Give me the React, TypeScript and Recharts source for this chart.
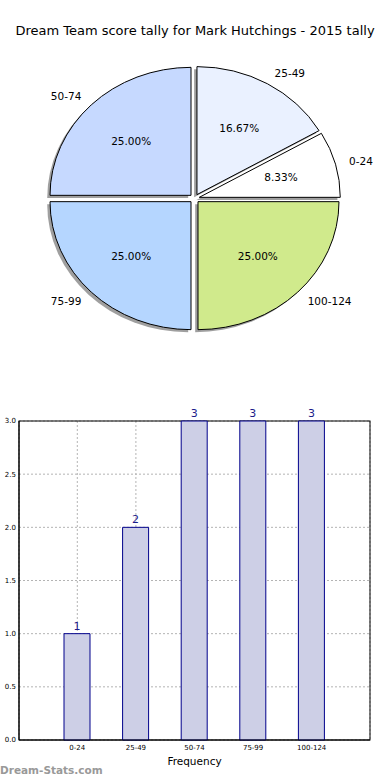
import React from "react";
import * as R from "recharts";
import { PieChart, Pie, BarChart, Bar, XAxis, YAxis, CartesianGrid, LabelList } from "recharts";

const bins = ["0-24", "25-49", "50-74", "75-99", "100-124"];
const counts = [1, 2, 3, 3, 3];
const sliceColors = ["#ffffff", "#eaf1ff", "#c6d9ff", "#b5d6ff", "#d0ea8c"];
const yTicks = [0, 0.5, 1, 1.5, 2, 2.5, 3];

const data = bins.map((b, i) => ({ name: b, value: counts[i], color: sliceColors[i] }));

const FONT = "'DejaVu Sans', sans-serif";
const RAD = Math.PI / 180;
const Y_RATIO = 128 / 141;
const EXPLODE = 0.035;
const BAR_W = 390;
const BAR_H = 380;

function geom(p: any) {
  const rx = p.outerRadius;
  const ry = p.outerRadius * Y_RATIO;
  const mid = p.midAngle;
  const ox = p.cx + EXPLODE * rx * Math.cos(mid * RAD);
  const oy = p.cy - EXPLODE * ry * Math.sin(mid * RAD);
  return { rx, ry, ox, oy, mid };
}

function sectorPath(p: any, dx: number, dy: number) {
  const { rx, ry, ox, oy } = geom(p);
  const cx = ox + dx;
  const cy = oy + dy;
  const s = p.startAngle;
  const e = p.endAngle;
  const x1 = cx + rx * Math.cos(s * RAD);
  const y1 = cy - ry * Math.sin(s * RAD);
  const x2 = cx + rx * Math.cos(e * RAD);
  const y2 = cy - ry * Math.sin(e * RAD);
  const large = Math.abs(e - s) > 180 ? 1 : 0;
  return `M${cx},${cy} L${x1},${y1} A${rx},${ry} 0 ${large} 0 ${x2},${y2} Z`;
}

function renderShadow(p: any) {
  const rx = p.outerRadius;
  return (
    <path
      key={`sh-${p.index}`}
      d={sectorPath(p, -0.02 * rx, 0.02 * rx * Y_RATIO)}
      fill="#404040"
      fillOpacity={0.5}
      stroke="none"
    />
  );
}

function renderSlice(p: any) {
  return (
    <path
      key={`sl-${p.index}`}
      d={sectorPath(p, 0, 0)}
      fill={p.payload.color}
      stroke="#000"
      strokeWidth={1}
    />
  );
}

function renderText(p: any) {
  const { rx, ry, ox, oy, mid } = geom(p);
  const c = Math.cos(mid * RAD);
  const s = Math.sin(mid * RAD);
  const lx = ox + 1.1 * rx * c;
  const ly = oy - 1.1 * ry * s;
  const px = ox + 0.6 * rx * c;
  const py = oy - 0.6 * ry * s;
  return (
    <g key={`tx-${p.index}`}>
      <text x={lx} y={ly} textAnchor={c > 0 ? "start" : "end"} dominantBaseline="central" fontFamily={FONT} fontSize={10.5} fill="#000">
        {p.name}
      </text>
      <text x={px} y={py} textAnchor="middle" dominantBaseline="central" fontFamily={FONT} fontSize={10.5} fill="#000">
        {(p.percent * 100).toFixed(2) + "%"}
      </text>
    </g>
  );
}

const barData = bins.map((b, i) => ({ bin: b, count: counts[i] }));

const usePlotAreaAny: any = (R as any).usePlotArea;
const useOffsetAny: any = (R as any).useOffset;

function PlotBorder() {
  let area: any = null;
  if (usePlotAreaAny) {
    area = usePlotAreaAny();
  } else if (useOffsetAny) {
    const o = useOffsetAny();
    if (o) area = { x: o.left, y: o.top, width: BAR_W - o.left - o.right, height: BAR_H - o.top - o.bottom };
  }
  if (!area) return null;
  return <rect x={area.x} y={area.y} width={area.width} height={area.height} fill="none" stroke="#000" strokeWidth={1} />;
}

export default function App() {
  return (
    <div style={{ position: "absolute", left: 0, top: 0, width: 390, height: 780, background: "#fff" }}>
      <div
        style={{
          position: "absolute",
          left: 0,
          top: 23,
          width: 390,
          textAlign: "center",
          fontFamily: FONT,
          fontSize: 13,
          lineHeight: "15px",
          color: "#000",
          whiteSpace: "nowrap",
        }}
      >
        Dream Team score tally for Mark Hutchings - 2015 tally
      </div>
      <div style={{ position: "absolute", left: 0, top: 0 }}>
        <PieChart width={390} height={380} margin={{ top: 0, right: 0, bottom: 0, left: 0 }}>
          <Pie data={data} dataKey="value" nameKey="name" cx={194.5} cy={198.5} outerRadius={141} startAngle={0} endAngle={360}
            fill="transparent" stroke="none" label={renderShadow} labelLine={false} isAnimationActive={false} />
          <Pie data={data} dataKey="value" nameKey="name" cx={194.5} cy={198.5} outerRadius={141} startAngle={0} endAngle={360}
            fill="transparent" stroke="none" label={renderSlice} labelLine={false} isAnimationActive={false} />
          <Pie data={data} dataKey="value" nameKey="name" cx={194.5} cy={198.5} outerRadius={141} startAngle={0} endAngle={360}
            fill="transparent" stroke="none" label={renderText} labelLine={false} isAnimationActive={false} />
        </PieChart>
      </div>
      <div style={{ position: "absolute", left: 0, top: 400 }}>
        <BarChart width={BAR_W} height={BAR_H} data={barData} margin={{ top: 21, right: 20, bottom: 0, left: 0 }} barCategoryGap={0}>
          <XAxis
            dataKey="bin"
            padding={{ left: 29, right: 29 }}
            height={40}
            tickSize={0}
            tickMargin={5}
            tickLine={false}
            axisLine={{ stroke: "#000" }}
            tick={{ fontSize: 7, fill: "#000", fontFamily: FONT }}
            interval={0}
            label={{ value: "Frequency", position: "insideBottom", offset: 15, fontSize: 10.5, fill: "#000", fontFamily: FONT }}
          />
          <YAxis
            domain={[0, 3]}
            ticks={yTicks}
            width={19}
            tickSize={0}
            tickMargin={3}
            tickLine={false}
            axisLine={{ stroke: "#000" }}
            tickFormatter={(v: number) => v.toFixed(1)}
            tick={{ fontSize: 7, fill: "#000", fontFamily: FONT }}
          />
          <Bar dataKey="count" barSize={26} fill="#cdcfe6" stroke="#00008b" strokeWidth={1} isAnimationActive={false}>
            <LabelList dataKey="count" position="top" offset={4} fill="#1c1c8a" fontSize={11} fontFamily={FONT} />
          </Bar>
          <CartesianGrid stroke="#b4b4b4" strokeDasharray="2 2" />
          <PlotBorder />
        </BarChart>
      </div>
      <div
        style={{
          position: "absolute",
          left: 0,
          top: 763,
          fontFamily: FONT,
          fontWeight: "bold",
          fontSize: 10.5,
          color: "#999",
          lineHeight: "14px",
        }}
      >
        Dream-Stats.com
      </div>
    </div>
  );
}
